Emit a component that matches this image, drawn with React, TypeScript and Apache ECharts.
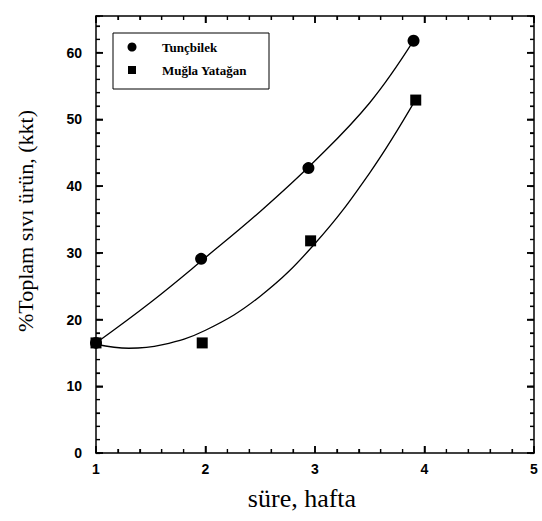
import React, { useEffect, useRef } from "react";
import * as echarts from "echarts";

const tuncX = [1, 1.96, 2.94, 3.9];
const tuncY = [16.5, 29.1, 42.7, 61.8];
const muglaX = [1, 1.97, 2.96, 3.92];
const muglaY = [16.5, 16.5, 31.8, 52.9];

const tuncCurveX = [1, 1.5, 2, 2.5, 3, 3.5, 3.9];
const tuncCurveY = [16.5, 22.6, 29.3, 36.2, 43.8, 52.5, 61.8];
const muglaCurveX = [1, 1.3, 1.6, 2, 2.5, 3, 3.5, 3.92];
const muglaCurveY = [16.3, 15.7, 16.2, 18.4, 23.5, 31.4, 42.0, 53.0];

const seriesNames = ["Tunçbilek", "Muğla Yatağan"];
const xTitle = "süre, hafta";
const yTitle = "%Toplam sıvı ürün, (kkt)";

const X_MIN = 1;
const X_MAX = 5;
const Y_MIN = 0;
const Y_MAX = 65.5;

const zip = (xs: number[], ys: number[]) => xs.map((x, i) => [x, ys[i]]);

const BLACK = "#000000";
const FONT_SANS = "Liberation Sans, Arial, sans-serif";
const SERIF = "'Liberation Serif', 'Times New Roman', serif";

function majorTick() {
  return { show: true, inside: true, length: 7, lineStyle: { color: BLACK, width: 1.5 } };
}
function minorTickAxis() {
  return { show: true, inside: true, length: 4, lineStyle: { color: BLACK, width: 1.2 } };
}
function axisLine() {
  return { show: true, onZero: false, lineStyle: { color: BLACK, width: 1.5 } };
}

export default function App() {
  const ref = useRef<HTMLDivElement>(null);
  useEffect(() => {
    if (!ref.current) return;
    const chart = echarts.init(ref.current, null, { renderer: "svg" });
    chart.setOption({
      animation: false,
      backgroundColor: "#fff",
      grid: { left: 96, right: 8, top: 16, bottom: 68 },
      xAxis: [
        {
          type: "value",
          position: "bottom",
          min: X_MIN,
          max: X_MAX,
          interval: 1,
          splitLine: { show: false },
          axisLine: axisLine(),
          axisTick: majorTick(),
          minorTick: { show: true, splitNumber: 5, length: 4, lineStyle: { color: BLACK, width: 1.2 } },
          axisLabel: { color: BLACK, fontSize: 14, fontWeight: "bold", fontFamily: FONT_SANS, margin: 9 },
        },
        {
          type: "value",
          position: "top",
          min: X_MIN,
          max: X_MAX,
          interval: 1,
          splitLine: { show: false },
          axisLine: axisLine(),
          axisTick: majorTick(),
          minorTick: { show: true, splitNumber: 5, length: 4, lineStyle: { color: BLACK, width: 1.2 } },
          axisLabel: { show: false },
        },
      ],
      yAxis: [
        {
          type: "value",
          position: "left",
          min: Y_MIN,
          max: Y_MAX,
          interval: 10,
          splitLine: { show: false },
          axisLine: axisLine(),
          axisTick: majorTick(),
          axisLabel: {
            color: BLACK,
            fontSize: 14,
            fontWeight: "bold",
            fontFamily: FONT_SANS,
            margin: 14,
            formatter: (v: number) => (v % 10 === 0 ? String(v) : ""),
          },
        },
        {
          type: "value",
          position: "left",
          min: Y_MIN,
          max: Y_MAX,
          interval: 2,
          splitLine: { show: false },
          axisLine: { show: false },
          axisTick: minorTickAxis(),
          axisLabel: { show: false },
        },
        {
          type: "value",
          position: "right",
          min: Y_MIN,
          max: Y_MAX,
          interval: 10,
          splitLine: { show: false },
          axisLine: axisLine(),
          axisTick: majorTick(),
          axisLabel: { show: false },
        },
        {
          type: "value",
          position: "right",
          min: Y_MIN,
          max: Y_MAX,
          interval: 2,
          splitLine: { show: false },
          axisLine: { show: false },
          axisTick: minorTickAxis(),
          axisLabel: { show: false },
        },
      ],
      series: [
        {
          type: "line",
          data: zip(tuncCurveX, tuncCurveY),
          smooth: 0.4,
          symbol: "none",
          lineStyle: { color: BLACK, width: 1.3 },
          silent: true,
        },
        {
          type: "line",
          data: zip(muglaCurveX, muglaCurveY),
          smooth: 0.4,
          symbol: "none",
          lineStyle: { color: BLACK, width: 1.3 },
          silent: true,
        },
        {
          name: seriesNames[0],
          type: "scatter",
          data: zip(tuncX, tuncY),
          symbol: "circle",
          symbolSize: 12,
          itemStyle: { color: BLACK, opacity: 1 },
        },
        {
          name: seriesNames[1],
          type: "scatter",
          data: zip(muglaX, muglaY),
          symbol: "rect",
          symbolSize: 11,
          itemStyle: { color: BLACK, opacity: 1 },
        },
      ],
    });

    const graphics: any[] = [
      {
        type: "rect",
        shape: { x: 113, y: 33, width: 156, height: 56 },
        style: { fill: "#fff", stroke: BLACK, lineWidth: 1 },
      },
      { type: "circle", shape: { cx: 132, cy: 47, r: 4.5 }, style: { fill: BLACK } },
      { type: "rect", shape: { x: 128, y: 66, width: 8, height: 8 }, style: { fill: BLACK } },
      {
        type: "text",
        x: 162,
        y: 47,
        style: { text: seriesNames[0], fill: BLACK, font: "bold 13px " + SERIF, verticalAlign: "middle" },
      },
      {
        type: "text",
        x: 162,
        y: 70,
        style: { text: seriesNames[1], fill: BLACK, font: "bold 13px " + SERIF, verticalAlign: "middle" },
      },
      {
        type: "text",
        x: 302,
        y: 498,
        style: { text: xTitle, fill: BLACK, font: "26px " + SERIF, align: "center", verticalAlign: "middle" },
      },
      {
        type: "text",
        x: 25,
        y: 221,
        rotation: Math.PI / 2,
        style: { text: yTitle, fill: BLACK, font: "22px " + SERIF, align: "center", verticalAlign: "middle" },
      },
    ];

    // Tick marks on all four sides, positioned through the chart's own scales.
    try {
      const finder = { seriesIndex: 2 };
      const p0 = chart.convertToPixel(finder, [X_MIN, Y_MIN]) as number[];
      const p1 = chart.convertToPixel(finder, [X_MAX, Y_MAX]) as number[];
      if (p0 && p1) {
        const left = p0[0];
        const bottom = p0[1];
        const right = p1[0];
        const top = p1[1];
        const line = (x1: number, y1: number, x2: number, y2: number, w: number) => ({
          type: "line",
          silent: true,
          shape: { x1, y1, x2, y2 },
          style: { stroke: BLACK, lineWidth: w },
        });
        for (let i = 0; i <= 20; i++) {
          const v = X_MIN + i * 0.2;
          const px = (chart.convertToPixel(finder, [v, Y_MIN]) as number[])[0];
          const major = i % 5 === 0;
          const len = major ? 7 : 4;
          const w = major ? 1.5 : 1.2;
          graphics.push(line(px, bottom, px, bottom - len, w));
          graphics.push(line(px, top, px, top + len, w));
        }
        for (let v = Y_MIN; v <= 64; v += 2) {
          const py = (chart.convertToPixel(finder, [X_MIN, v]) as number[])[1];
          const major = v % 10 === 0;
          const len = major ? 7 : 4;
          const w = major ? 1.5 : 1.2;
          graphics.push(line(left, py, left + len, py, w));
          graphics.push(line(right, py, right - len, py, w));
        }
      }
    } catch (e) {
      // ignore; native axis ticks remain
    }

    chart.setOption({ graphic: graphics });
    return () => chart.dispose();
  }, []);
  return <div ref={ref} style={{ width: 542, height: 521, position: "absolute", left: 0, top: 0 }} />;
}
